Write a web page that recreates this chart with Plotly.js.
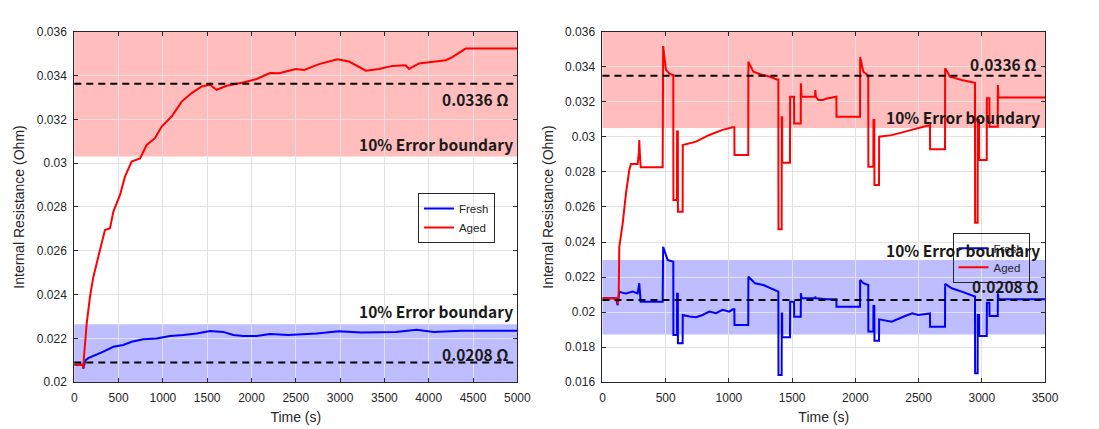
<!DOCTYPE html>
<html>
<head>
<meta charset="utf-8">
<script src="https://cdn.plot.ly/plotly-3.0.1.min.js"></script>
<style>
  html, body { margin: 0; padding: 0; background: #ffffff; }
  #chart { width: 1099px; height: 429px; }
</style>
</head>
<body>
<div id="chart"></div>
<script>
// ---- left panel: constant current test (0 - 5000 s) ----
const leftFreshTime = [0, 95, 102, 125, 158, 252, 328, 441, 553, 647, 779, 929, 1080, 1231, 1381, 1532, 1682, 1795, 1907, 2059, 2209, 2416, 2735, 2987, 3240, 3630, 3863, 4058, 4370, 5000];
const leftFresh = [0.0208, 0.0208, 0.02063, 0.0210, 0.0211, 0.02125, 0.0214, 0.02162, 0.0217, 0.02185, 0.02196, 0.0220, 0.02211, 0.02216, 0.02223, 0.02234, 0.0223, 0.02216, 0.02211, 0.02211, 0.0222, 0.02216, 0.02223, 0.02233, 0.02227, 0.0223, 0.0224, 0.0223, 0.02235, 0.02235];

const leftAgedTime = [0, 95, 102, 110, 140, 177, 215, 250, 290, 346, 403, 441, 516, 572, 647, 742, 817, 911, 986, 1099, 1212, 1325, 1438, 1532, 1607, 1720, 1907, 2059, 2209, 2312, 2500, 2594, 2763, 2914, 2970, 3102, 3214, 3289, 3440, 3590, 3740, 3778, 3891, 4041, 4192, 4267, 4361, 4417, 5000];
const leftAged = [0.0208, 0.0208, 0.02063, 0.0212, 0.02268, 0.0239, 0.02481, 0.0254, 0.02596, 0.02695, 0.02703, 0.02779, 0.02855, 0.02939, 0.03007, 0.03022, 0.03083, 0.03114, 0.03167, 0.03213, 0.03281, 0.0332, 0.0335, 0.03358, 0.03335, 0.03353, 0.03368, 0.03384, 0.03411, 0.0341, 0.0343, 0.03425, 0.03452, 0.0347, 0.03474, 0.03464, 0.0344, 0.03422, 0.0343, 0.03444, 0.03447, 0.0343, 0.03455, 0.03464, 0.0347, 0.03484, 0.03511, 0.03523, 0.03523];

// ---- right panel: dynamic profile (0 - 3500 s) ----
const rightFreshTime = [0, 107, 120, 133, 160, 186, 239, 278, 291, 296, 302, 476, 480, 515, 555, 560, 561, 589, 590, 596, 597, 634, 635, 689, 740, 792, 845, 898, 950, 1003, 1030, 1043, 1044, 1153, 1154, 1206, 1272, 1325, 1378, 1391, 1392, 1417, 1418, 1421, 1422, 1483, 1484, 1515, 1516, 1568, 1569, 1575, 1681, 1683, 1688, 1773, 1850, 1851, 2037, 2038, 2063, 2100, 2102, 2103, 2142, 2143, 2150, 2151, 2187, 2188, 2287, 2393, 2450, 2498, 2577, 2590, 2591, 2709, 2710, 2762, 2841, 2933, 2946, 2947, 2967, 2968, 2978, 2979, 3039, 3040, 3060, 3061, 3126, 3127, 3132, 3500];
const rightFresh = [0.0208, 0.0208, 0.0204, 0.02117, 0.0211, 0.02107, 0.02117, 0.02107, 0.02165, 0.0208, 0.0206, 0.0206, 0.02373, 0.02298, 0.02288, 0.02288, 0.0187, 0.0187, 0.02105, 0.02105, 0.01822, 0.01822, 0.01984, 0.01975, 0.01971, 0.01984, 0.02003, 0.01994, 0.02013, 0.02003, 0.02016, 0.02016, 0.01927, 0.01927, 0.02202, 0.02165, 0.02155, 0.02136, 0.02117, 0.02117, 0.01642, 0.01642, 0.01993, 0.01993, 0.01857, 0.01857, 0.0206, 0.0206, 0.01974, 0.01974, 0.02108, 0.02079, 0.02079, 0.02089, 0.02079, 0.02074, 0.02074, 0.02031, 0.02031, 0.02184, 0.02165, 0.02155, 0.02155, 0.01889, 0.01889, 0.02035, 0.02035, 0.01837, 0.01837, 0.01959, 0.01946, 0.01978, 0.01993, 0.01984, 0.01993, 0.01993, 0.01917, 0.01917, 0.02161, 0.02136, 0.02117, 0.02089, 0.02089, 0.01651, 0.01651, 0.01984, 0.01984, 0.01864, 0.01864, 0.02054, 0.02054, 0.01978, 0.01978, 0.02108, 0.02074, 0.02074];

const rightAgedTime = [0, 118, 121, 128, 133, 160, 186, 212, 225, 278, 288, 291, 296, 302, 476, 480, 502, 530, 555, 560, 561, 589, 590, 596, 597, 634, 635, 740, 845, 950, 1030, 1043, 1044, 1153, 1154, 1193, 1246, 1325, 1378, 1391, 1392, 1417, 1418, 1421, 1422, 1483, 1484, 1515, 1516, 1568, 1569, 1575, 1681, 1683, 1688, 1707, 1740, 1773, 1850, 1851, 2037, 2038, 2063, 2100, 2102, 2103, 2142, 2143, 2150, 2151, 2187, 2188, 2287, 2393, 2498, 2582, 2590, 2591, 2709, 2710, 2749, 2841, 2933, 2946, 2947, 2967, 2968, 2978, 2979, 3039, 3040, 3060, 3061, 3126, 3127, 3132, 3500];
const rightAged = [0.0208, 0.0208, 0.02045, 0.0209, 0.02373, 0.02507, 0.02678, 0.02811, 0.02845, 0.02845, 0.0291, 0.02982, 0.0290, 0.02826, 0.02826, 0.03518, 0.03382, 0.0336, 0.03353, 0.03353, 0.0264, 0.0264, 0.0303, 0.0303, 0.02573, 0.02573, 0.02954, 0.02973, 0.03011, 0.0304, 0.03055, 0.03055, 0.02897, 0.02897, 0.03429, 0.03372, 0.03357, 0.03343, 0.03328, 0.03328, 0.02473, 0.02473, 0.03112, 0.03112, 0.02853, 0.02853, 0.03229, 0.03229, 0.03077, 0.03077, 0.03306, 0.03229, 0.03229, 0.03267, 0.03229, 0.0321, 0.0321, 0.03219, 0.03229, 0.03115, 0.03115, 0.03454, 0.03372, 0.0335, 0.0335, 0.0283, 0.0283, 0.03096, 0.03096, 0.02725, 0.02725, 0.03001, 0.0301, 0.0303, 0.03049, 0.03068, 0.03068, 0.02929, 0.02929, 0.03391, 0.03343, 0.03324, 0.03309, 0.03309, 0.0251, 0.0251, 0.03096, 0.03096, 0.02868, 0.02868, 0.0322, 0.0322, 0.03058, 0.03058, 0.03296, 0.03224, 0.03224];

// reference resistance lines [fresh, aged] and 10% error bands [low, high]
const leftReference = [0.0209, 0.03362];
const rightReference = [0.02069, 0.03349];
const leftFreshBand = [0.0195, 0.02265];
const leftAgedBand = [0.0303, 0.037];
const rightFreshBand = [0.01872, 0.02297];
const rightAgedBand = [0.0305, 0.037];

const seriesNames = ['Fresh', 'Aged'];
const seriesColors = ['#0000ff', '#ff0000'];

const tickFont = { family: 'Liberation Sans, Arial, sans-serif', size: 12, color: '#262626' };
const titleFont = { family: 'Liberation Sans, Arial, sans-serif', size: 14, color: '#262626' };
const labelFont = { family: 'Noto Sans CJK KR, Noto Sans, sans-serif', size: 15.5, color: '#1a1a1a', weight: 700 };

const traces = [
    { x: leftFreshTime, y: leftFresh, xaxis: 'x', yaxis: 'y', legend: 'legend' },
    { x: leftAgedTime, y: leftAged, xaxis: 'x', yaxis: 'y', legend: 'legend' },
    { x: rightFreshTime, y: rightFresh, xaxis: 'x2', yaxis: 'y2', legend: 'legend2' },
    { x: rightAgedTime, y: rightAged, xaxis: 'x2', yaxis: 'y2', legend: 'legend2' }
].map((t, i) => Object.assign(t, {
    type: 'scatter',
    mode: 'lines',
    name: seriesNames[i % 2],
    line: { color: seriesColors[i % 2], width: 2 }
}));

function band(xref, yref, range, color) {
    return {
        type: 'rect', xref: xref + ' domain', yref: yref,
        x0: 0, x1: 1, y0: range[0], y1: range[1],
        fillcolor: color, line: { width: 0 }, layer: 'below'
    };
}

function refLine(xref, yref, value) {
    return {
        type: 'line', xref: xref + ' domain', yref: yref,
        x0: 0, x1: 1, y0: value, y1: value,
        line: { color: '#000000', width: 2, dash: '7px,5px' }, layer: 'above'
    };
}

const shapes = [
    band('x', 'y', leftAgedBand, 'rgba(255,0,0,0.26)'),
    band('x', 'y', leftFreshBand, 'rgba(0,0,255,0.26)'),
    band('x2', 'y2', rightAgedBand, 'rgba(255,0,0,0.26)'),
    band('x2', 'y2', rightFreshBand, 'rgba(0,0,255,0.26)'),
    refLine('x', 'y', leftReference[0]),
    refLine('x', 'y', leftReference[1]),
    refLine('x2', 'y2', rightReference[0]),
    refLine('x2', 'y2', rightReference[1])
];

function label(text, x, y) {
    return { text: text, xref: 'paper', yref: 'paper', x: x, y: y, xanchor: 'right', yanchor: 'middle', showarrow: false, font: labelFont };
}

const annotations = [
    label('0.0336 Ω', 0.465, 0.7685),
    label('10% Error boundary', 0.4684, 0.6643),
    label('10% Error boundary', 0.4684, 0.2758),
    label('0.0208 Ω', 0.465, 0.1748),
    label('0.0336 Ω', 0.9454, 0.8508),
    label('10% Error boundary', 0.9483, 0.7273),
    label('10% Error boundary', 0.9483, 0.4172),
    label('0.0208 Ω', 0.9472, 0.3333)
];

function axis(extra) {
    return Object.assign({
        showline: true, linecolor: '#262626', linewidth: 1, mirror: 'ticks',
        ticks: 'inside', ticklen: 4, tickcolor: '#262626',
        showgrid: true, gridcolor: '#e2e2e2', zeroline: false,
        tickfont: tickFont, ticklabelstandoff: 4
    }, extra);
}

const legendBase = {
    xanchor: 'left', yanchor: 'top', bgcolor: 'rgba(255,255,255,0)',
    bordercolor: '#262626', borderwidth: 1,
    font: { family: 'Liberation Sans, Arial, sans-serif', size: 11.5, color: '#262626' },
    itemwidth: 30, tracegroupgap: 0
};

const layout = {
    width: 1099,
    height: 429,
    margin: { l: 0, r: 0, t: 0, b: 0 },
    paper_bgcolor: '#ffffff',
    plot_bgcolor: '#ffffff',
    showlegend: true,
    xaxis: axis({
        domain: [0.0676, 0.4707], anchor: 'y', range: [0, 5000], dtick: 500,
        title: { text: 'Time (s)', font: titleFont, standoff: 8 }
    }),
    yaxis: axis({
        domain: [0.1089, 0.9261], anchor: 'x', range: [0.02, 0.036], dtick: 0.002,
        title: { text: 'Internal Resistance (Ohm)', font: titleFont, standoff: 8 }
    }),
    xaxis2: axis({
        domain: [0.5482, 0.9509], anchor: 'y2', range: [0, 3500], dtick: 500,
        title: { text: 'Time (s)', font: titleFont, standoff: 8 }
    }),
    yaxis2: axis({
        domain: [0.1089, 0.9261], anchor: 'x2', range: [0.016, 0.036], dtick: 0.002,
        title: { text: 'Internal Resistance (Ohm)', font: titleFont, standoff: 8 }
    }),
    legend: Object.assign({ x: 0.3803, y: 0.5501 }, legendBase),
    legend2: Object.assign({ x: 0.8667, y: 0.4576 }, legendBase),
    shapes: shapes,
    annotations: annotations
};

const config = { responsive: false, displayModeBar: false, staticPlot: true };

Plotly.newPlot('chart', traces, layout, config);
</script>
</body>
</html>
